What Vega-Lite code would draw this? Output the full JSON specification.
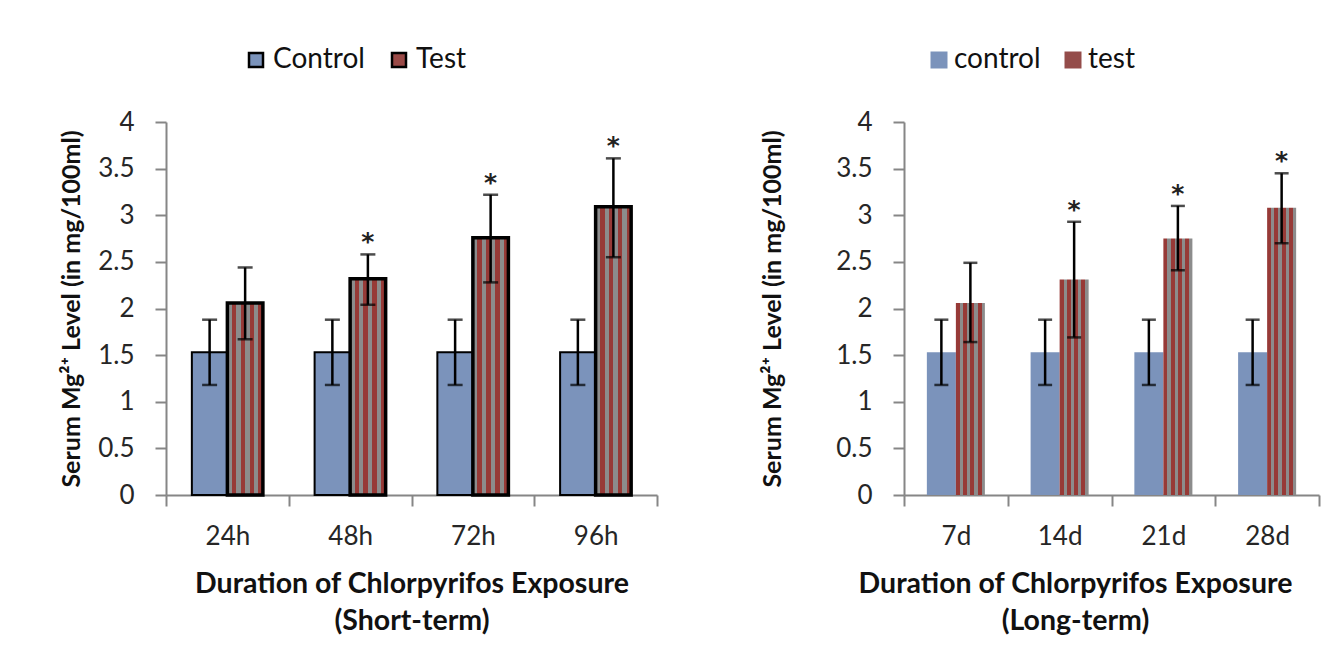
{
  "$schema": "https://vega.github.io/schema/vega-lite/v6.json",
  "background": "white",
  "padding": {"left": 59, "top": 46, "right": 5, "bottom": 5},
  "spacing": 247,
  "bounds": "flush",
  "resolve": {"scale": {"fill": "independent", "xOffset": "independent"}, "legend": {"fill": "independent"}},
  "config": {
    "font": "Lato",
    "view": {"stroke": null},
    "axis": {
      "domainColor": "#868686", "domainWidth": 2,
      "tickColor": "#868686", "tickWidth": 2, "tickSize": 11,
      "labelFont": "Lato", "labelFontSize": 26, "labelColor": "#262626",
      "titleFont": "Lato", "titleFontWeight": "bold", "titleColor": "#111111",
      "grid": false
    },
    "legend": {
      "labelFont": "Lato", "labelFontSize": 28, "labelColor": "#111111",
      "symbolType": "square"
    }
  },
  "hconcat": [
    {
      "width": 491, "height": 373,
      "data": {"values": [
        {"duration": "24h", "group": "Control", "mean": 1.53, "lo": 1.18, "hi": 1.88, "sig": ""},
        {"duration": "48h", "group": "Control", "mean": 1.53, "lo": 1.18, "hi": 1.88, "sig": ""},
        {"duration": "72h", "group": "Control", "mean": 1.53, "lo": 1.18, "hi": 1.88, "sig": ""},
        {"duration": "96h", "group": "Control", "mean": 1.53, "lo": 1.18, "hi": 1.88, "sig": ""},
        {"duration": "24h", "group": "Test", "mean": 2.06, "lo": 1.67, "hi": 2.44, "sig": ""},
        {"duration": "48h", "group": "Test", "mean": 2.32, "lo": 2.04, "hi": 2.58, "sig": "*"},
        {"duration": "72h", "group": "Test", "mean": 2.76, "lo": 2.28, "hi": 3.22, "sig": "*"},
        {"duration": "96h", "group": "Test", "mean": 3.09, "lo": 2.55, "hi": 3.61, "sig": "*"}
      ]},
      "encoding": {
        "x": {"field": "duration", "type": "nominal", "sort": ["24h", "48h", "72h", "96h"],
          "scale": {"paddingInner": 0, "paddingOuter": 0},
          "axis": {"labelAngle": 0, "tickBand": "extent", "labelPadding": 17,
            "title": ["Duration of Chlorpyrifos Exposure", "(Short-term)"],
            "titleFontSize": 28.5, "titleLineHeight": 37, "titlePadding": 20}},
        "xOffset": {"field": "group", "type": "nominal", "sort": ["Control", "Test"],
          "scale": {"paddingInner": 0, "paddingOuter": 0.728}}
      },
      "layer": [
        {
          "mark": {"type": "bar", "stroke": "black"},
          "encoding": {
            "y": {"field": "mean", "type": "quantitative", "scale": {"domain": [0, 4], "nice": false},
              "axis": {"values": [0, 0.5, 1, 1.5, 2, 2.5, 3, 3.5, 4], "labelExpr": "'' + datum.value", "labelPadding": 21, "titlePadding": 13, "titleFontSize": 25},
              "title": "Serum Mg²⁺ Level (in mg/100ml)"},
            "fill": {"field": "group", "type": "nominal",
              "scale": {"domain": ["Control", "Test"], "range": ["#7b93bb", "#9a4a47"]},
              "legend": {"orient": "none", "legendX": 76, "legendY": -76, "direction": "horizontal", "title": null,
                "symbolSize": 196, "symbolStrokeColor": "black", "symbolStrokeWidth": 2.5,
                "labelOffset": 3, "columnPadding": 20},
              "condition": [
                {"test": "datum.group === 'Control'", "value": "#7b93bb"},
                {"test": "datum.group === 'Test'", "value": {"gradient": "linear", "x1": 0, "y1": 0, "x2": 1, "y2": 0, "stops": [
                  {"offset": 0, "color": "#8c8c8c"}, {"offset": 0.125, "color": "#8c8c8c"},
                  {"offset": 0.125, "color": "#973a37"}, {"offset": 0.25, "color": "#973a37"},
                  {"offset": 0.25, "color": "#8c8c8c"}, {"offset": 0.375, "color": "#8c8c8c"},
                  {"offset": 0.375, "color": "#973a37"}, {"offset": 0.5, "color": "#973a37"},
                  {"offset": 0.5, "color": "#8c8c8c"}, {"offset": 0.625, "color": "#8c8c8c"},
                  {"offset": 0.625, "color": "#973a37"}, {"offset": 0.75, "color": "#973a37"},
                  {"offset": 0.75, "color": "#8c8c8c"}, {"offset": 0.875, "color": "#8c8c8c"},
                  {"offset": 0.875, "color": "#973a37"}, {"offset": 1, "color": "#973a37"}
                ]}}
              ]},
            "strokeWidth": {"condition": {"test": "datum.group === 'Test'", "value": 3.5}, "value": 2}
          }
        },
        {
          "mark": {"type": "rule", "color": "black", "strokeWidth": 2.5},
          "encoding": {
            "y": {"field": "lo", "type": "quantitative", "title": "Serum Mg²⁺ Level (in mg/100ml)"},
            "y2": {"field": "hi"}
          }
        },
        {
          "mark": {"type": "tick", "orient": "horizontal", "color": "black", "size": 15, "thickness": 2.5},
          "encoding": {"y": {"field": "hi", "type": "quantitative", "title": "Serum Mg²⁺ Level (in mg/100ml)"}}
        },
        {
          "mark": {"type": "tick", "orient": "horizontal", "color": "black", "size": 15, "thickness": 2.5},
          "encoding": {"y": {"field": "lo", "type": "quantitative", "title": "Serum Mg²⁺ Level (in mg/100ml)"}}
        },
        {
          "mark": {"type": "text", "fontSize": 25, "font": "DejaVu Sans", "fontWeight": "bold", "color": "#222222", "baseline": "alphabetic", "dy": -4},
          "encoding": {
            "y": {"field": "hi", "type": "quantitative", "title": "Serum Mg²⁺ Level (in mg/100ml)"},
            "text": {"field": "sig"}
          }
        }
      ]
    },
    {
      "width": 415, "height": 373,
      "data": {"values": [
        {"duration": "7d", "group": "control", "mean": 1.53, "lo": 1.18, "hi": 1.88, "sig": ""},
        {"duration": "14d", "group": "control", "mean": 1.53, "lo": 1.18, "hi": 1.88, "sig": ""},
        {"duration": "21d", "group": "control", "mean": 1.53, "lo": 1.18, "hi": 1.88, "sig": ""},
        {"duration": "28d", "group": "control", "mean": 1.53, "lo": 1.18, "hi": 1.88, "sig": ""},
        {"duration": "7d", "group": "test", "mean": 2.06, "lo": 1.64, "hi": 2.49, "sig": ""},
        {"duration": "14d", "group": "test", "mean": 2.31, "lo": 1.69, "hi": 2.93, "sig": "*"},
        {"duration": "21d", "group": "test", "mean": 2.75, "lo": 2.41, "hi": 3.1, "sig": "*"},
        {"duration": "28d", "group": "test", "mean": 3.08, "lo": 2.7, "hi": 3.45, "sig": "*"}
      ]},
      "encoding": {
        "x": {"field": "duration", "type": "nominal", "sort": ["7d", "14d", "21d", "28d"],
          "scale": {"paddingInner": 0, "paddingOuter": 0},
          "axis": {"labelAngle": 0, "tickBand": "extent", "labelPadding": 17,
            "title": ["Duration of Chlorpyrifos Exposure", "(Long-term)"],
            "titleX": 171,
            "titleFontSize": 28.5, "titleLineHeight": 37, "titlePadding": 20}},
        "xOffset": {"field": "group", "type": "nominal", "sort": ["control", "test"],
          "scale": {"paddingInner": 0, "paddingOuter": 0.788}}
      },
      "layer": [
        {
          "mark": {"type": "bar"},
          "encoding": {
            "y": {"field": "mean", "type": "quantitative", "scale": {"domain": [0, 4], "nice": false},
              "axis": {"values": [0, 0.5, 1, 1.5, 2, 2.5, 3, 3.5, 4], "labelExpr": "'' + datum.value", "labelPadding": 21, "titlePadding": 50, "titleFontSize": 25},
              "title": "Serum Mg²⁺ Level (in mg/100ml)"},
            "fill": {"field": "group", "type": "nominal",
              "scale": {"domain": ["control", "test"], "range": ["#7b93bb", "#944c4a"]},
              "legend": {"orient": "none", "legendX": 21, "legendY": -76, "direction": "horizontal", "title": null,
                "symbolSize": 289, "labelOffset": 1, "columnPadding": 18},
              "condition": [
                {"test": "datum.group === 'control'", "value": "#7b93bb"},
                {"test": "datum.group === 'test'", "value": {"gradient": "linear", "x1": 0, "y1": 0, "x2": 1, "y2": 0, "stops": [
                  {"offset": 0, "color": "#973a37"}, {"offset": 0.14, "color": "#973a37"},
                  {"offset": 0.14, "color": "#8c8c8c"}, {"offset": 0.25, "color": "#8c8c8c"},
                  {"offset": 0.25, "color": "#973a37"}, {"offset": 0.39, "color": "#973a37"},
                  {"offset": 0.39, "color": "#8c8c8c"}, {"offset": 0.5, "color": "#8c8c8c"},
                  {"offset": 0.5, "color": "#973a37"}, {"offset": 0.64, "color": "#973a37"},
                  {"offset": 0.64, "color": "#8c8c8c"}, {"offset": 0.75, "color": "#8c8c8c"},
                  {"offset": 0.75, "color": "#973a37"}, {"offset": 0.89, "color": "#973a37"},
                  {"offset": 0.89, "color": "#8c8c8c"}, {"offset": 1, "color": "#8c8c8c"}
                ]}}
              ]}
          }
        },
        {
          "mark": {"type": "rule", "color": "black", "strokeWidth": 2.5},
          "encoding": {
            "y": {"field": "lo", "type": "quantitative", "title": "Serum Mg²⁺ Level (in mg/100ml)"},
            "y2": {"field": "hi"}
          }
        },
        {
          "mark": {"type": "tick", "orient": "horizontal", "color": "black", "size": 14, "thickness": 2.5},
          "encoding": {"y": {"field": "hi", "type": "quantitative", "title": "Serum Mg²⁺ Level (in mg/100ml)"}}
        },
        {
          "mark": {"type": "tick", "orient": "horizontal", "color": "black", "size": 14, "thickness": 2.5},
          "encoding": {"y": {"field": "lo", "type": "quantitative", "title": "Serum Mg²⁺ Level (in mg/100ml)"}}
        },
        {
          "mark": {"type": "text", "fontSize": 25, "font": "DejaVu Sans", "fontWeight": "bold", "color": "#222222", "baseline": "alphabetic", "dy": -4},
          "encoding": {
            "y": {"field": "hi", "type": "quantitative", "title": "Serum Mg²⁺ Level (in mg/100ml)"},
            "text": {"field": "sig"}
          }
        }
      ]
    }
  ]
}
